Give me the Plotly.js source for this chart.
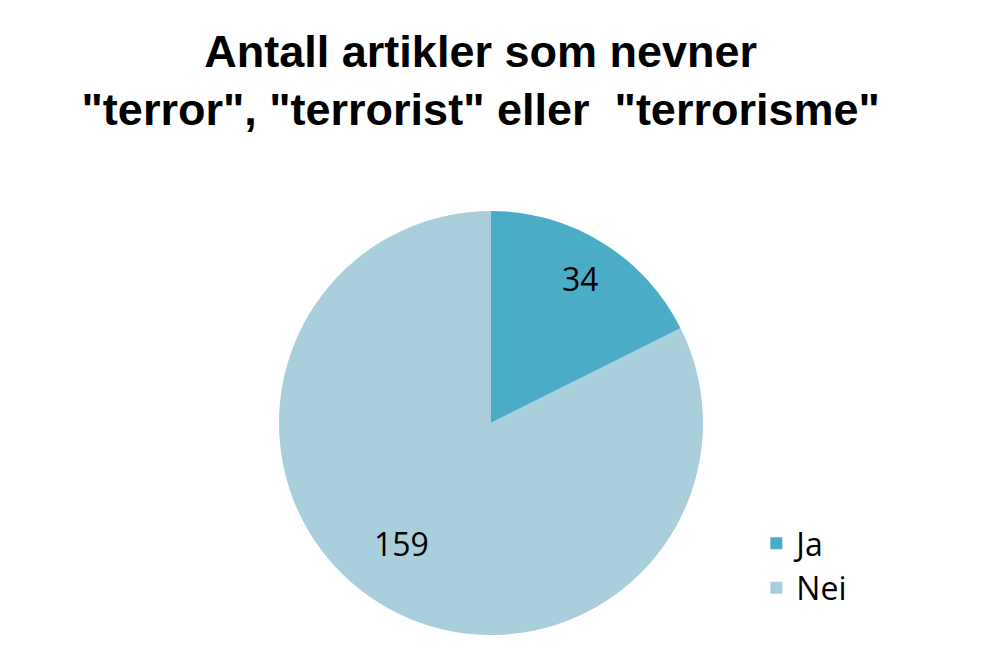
<!DOCTYPE html>
<html>
<head>
<meta charset="utf-8">
<script src="https://cdn.plot.ly/plotly-3.0.1.min.js"></script>
<style>
  html, body { margin: 0; padding: 0; background: #fff; }
  #chart { width: 981px; height: 654px; }
</style>
</head>
<body>
<div id="chart"></div>
<script>
var labels = ['Ja', 'Nei'];
var counts = [34, 159];
var colors = ['#4BACC6', '#AACFDC'];

var W = 981, H = 654;
var pieDomain = {x: [0.2844, 0.7166], y: [0.029, 0.6774]};

// data labels placed at the middle angle of each slice, like the original
var total = counts.reduce(function (a, b) { return a + b; }, 0);
var radiusPx = (pieDomain.x[1] - pieDomain.x[0]) * W / 2;
var cx = (pieDomain.x[0] + pieDomain.x[1]) / 2;
var cy = (pieDomain.y[0] + pieDomain.y[1]) / 2;
var annotations = [];
var acc = 0;
counts.forEach(function (v) {
    var mid = (acc + v / 2) / total * 2 * Math.PI;
    acc += v;
    annotations.push({
        xref: 'paper', yref: 'paper',
        x: cx + 0.8 * radiusPx * Math.sin(mid) / W,
        y: cy + 0.8 * radiusPx * Math.cos(mid) / H,
        text: String(v),
        showarrow: false,
        font: {family: 'Open Sans', size: 32, color: '#000'}
    });
});

var data = [
    {
        type: 'pie',
        labels: labels,
        values: counts,
        sort: false,
        direction: 'clockwise',
        rotation: 0,
        marker: {
            colors: colors,
            line: {width: 0}
        },
        textinfo: 'none',
        domain: pieDomain,
        hoverinfo: 'label+value'
    }
];

var layout = {
    width: W,
    height: H,
    paper_bgcolor: '#fff',
    margin: {l: 0, r: 0, t: 0, b: 0},
    title: {
        text: 'Antall artikler som nevner<br>"terror", "terrorist" eller  "terrorisme"',
        font: {family: 'Liberation Sans', size: 45, color: '#000', weight: 'bold'},
        x: 0.49,
        xanchor: 'center',
        y: 0.8976,
        yanchor: 'top'
    },
    annotations: annotations,
    showlegend: true,
    legend: {
        x: 0.771,
        y: 0.1346,
        xanchor: 'left',
        yanchor: 'middle',
        font: {family: 'Open Sans', size: 32, color: '#000'},
        itemwidth: 30
    }
};

Plotly.newPlot('chart', data, layout, {displayModeBar: false});
</script>
</body>
</html>
